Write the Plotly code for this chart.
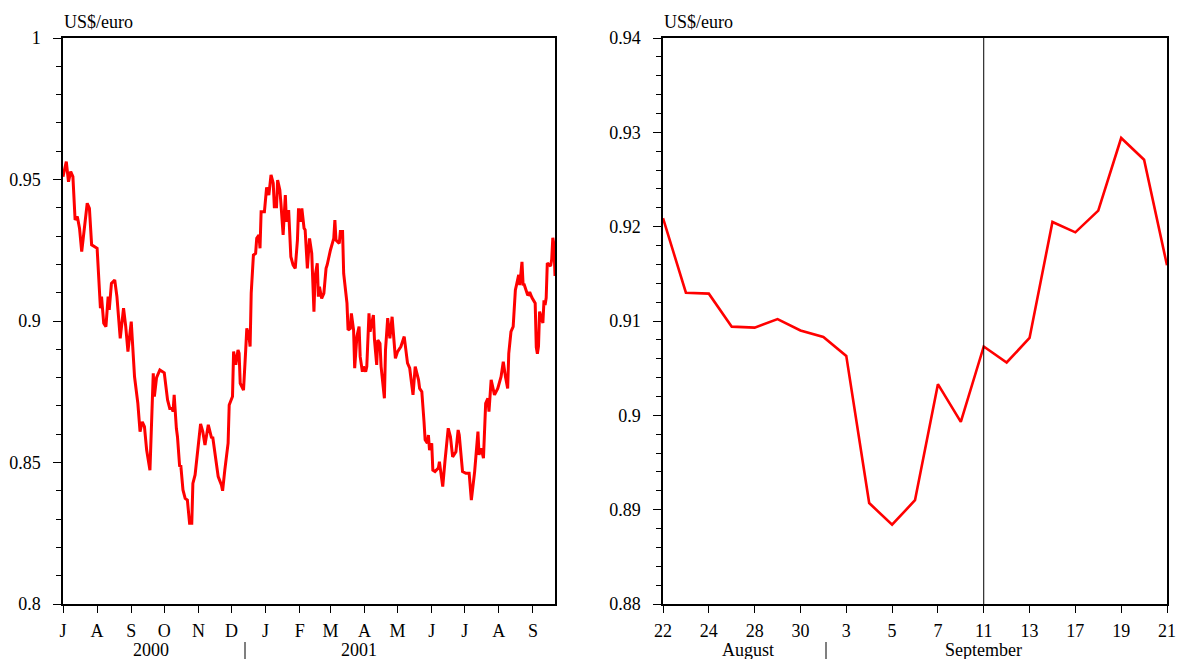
import pandas as pd
import plotly.graph_objects as go

# Daily US$/euro rate, July 2000 to mid-August 2001
rate_dates = [
    "2000-07-01", "2000-07-04", "2000-07-06", "2000-07-08", "2000-07-10", "2000-07-12",
    "2000-07-14", "2000-07-16", "2000-07-18", "2000-07-20", "2000-07-23", "2000-07-25",
    "2000-07-27", "2000-08-01", "2000-08-04", "2000-08-05", "2000-08-07", "2000-08-09",
    "2000-08-11", "2000-08-12", "2000-08-14", "2000-08-17", "2000-08-19", "2000-08-22",
    "2000-08-25", "2000-08-27", "2000-08-29", "2000-09-01", "2000-09-04", "2000-09-07",
    "2000-09-09", "2000-09-11", "2000-09-13", "2000-09-15", "2000-09-18", "2000-09-21",
    "2000-09-22", "2000-09-24", "2000-09-27", "2000-10-01", "2000-10-04", "2000-10-06",
    "2000-10-08", "2000-10-09", "2000-10-10", "2000-10-12", "2000-10-13", "2000-10-15",
    "2000-10-16", "2000-10-18", "2000-10-20", "2000-10-22", "2000-10-24", "2000-10-26",
    "2000-10-27", "2000-10-29", "2000-10-31", "2000-11-01", "2000-11-03", "2000-11-05",
    "2000-11-07", "2000-11-10", "2000-11-13", "2000-11-14", "2000-11-16", "2000-11-19",
    "2000-11-22", "2000-11-23", "2000-11-25", "2000-11-28", "2000-11-29", "2000-12-02",
    "2000-12-03", "2000-12-05", "2000-12-07", "2000-12-08", "2000-12-09", "2000-12-12",
    "2000-12-14", "2000-12-15", "2000-12-17", "2000-12-18", "2000-12-19", "2000-12-21",
    "2000-12-23", "2000-12-24", "2000-12-26", "2000-12-27", "2000-12-28", "2000-12-31",
    "2001-01-02", "2001-01-04", "2001-01-06", "2001-01-08", "2001-01-09", "2001-01-11",
    "2001-01-12", "2001-01-14", "2001-01-15", "2001-01-17", "2001-01-19", "2001-01-20",
    "2001-01-22", "2001-01-24", "2001-01-26", "2001-01-28", "2001-01-30", "2001-01-31",
    "2001-02-02", "2001-02-03", "2001-02-05", "2001-02-06", "2001-02-08", "2001-02-10",
    "2001-02-12", "2001-02-14", "2001-02-15", "2001-02-17", "2001-02-18", "2001-02-19",
    "2001-02-21", "2001-02-23", "2001-02-25", "2001-02-26", "2001-03-01", "2001-03-04",
    "2001-03-05", "2001-03-06", "2001-03-09", "2001-03-10", "2001-03-12", "2001-03-13",
    "2001-03-15", "2001-03-16", "2001-03-17", "2001-03-19", "2001-03-20", "2001-03-22",
    "2001-03-23", "2001-03-25", "2001-03-27", "2001-03-28", "2001-03-30", "2001-03-31",
    "2001-04-02", "2001-04-03", "2001-04-05", "2001-04-06", "2001-04-09", "2001-04-10",
    "2001-04-12", "2001-04-13", "2001-04-15", "2001-04-16", "2001-04-19", "2001-04-20",
    "2001-04-22", "2001-04-24", "2001-04-26", "2001-04-29", "2001-05-01", "2001-05-04",
    "2001-05-07", "2001-05-08", "2001-05-10", "2001-05-12", "2001-05-14", "2001-05-15",
    "2001-05-17", "2001-05-20", "2001-05-21", "2001-05-23", "2001-05-25", "2001-05-26",
    "2001-05-28", "2001-05-29", "2001-05-30", "2001-06-01", "2001-06-02", "2001-06-04",
    "2001-06-07", "2001-06-08", "2001-06-09", "2001-06-11", "2001-06-13", "2001-06-16",
    "2001-06-18", "2001-06-20", "2001-06-23", "2001-06-25", "2001-06-26", "2001-06-29",
    "2001-07-02", "2001-07-05", "2001-07-07", "2001-07-10", "2001-07-13", "2001-07-14",
    "2001-07-16", "2001-07-18", "2001-07-20", "2001-07-22", "2001-07-23", "2001-07-25",
    "2001-07-28", "2001-07-31", "2001-08-03", "2001-08-05", "2001-08-07", "2001-08-09",
    "2001-08-10", "2001-08-12", "2001-08-14", "2001-08-16", "2001-08-17", "2001-08-19",
    "2001-08-20",
]
rate_values = [
    0.9510, 0.9563, 0.9492, 0.9528, 0.9510, 0.9357,
    0.9369, 0.9328, 0.9245, 0.9322, 0.9416, 0.9398,
    0.9269, 0.9257, 0.9045, 0.9086, 0.8992, 0.8980,
    0.9086, 0.9039, 0.9133, 0.9145, 0.9086, 0.8939,
    0.9045, 0.8980, 0.8892, 0.8998, 0.8803, 0.8709,
    0.8609, 0.8644, 0.8627, 0.8544, 0.8473, 0.8815,
    0.8733, 0.8800, 0.8827, 0.8817, 0.8721, 0.8691,
    0.8691, 0.8680, 0.8739, 0.8621, 0.8591, 0.8485,
    0.8491, 0.8403, 0.8373, 0.8367, 0.8285, 0.8285,
    0.8426, 0.8456, 0.8532, 0.8574, 0.8636, 0.8609,
    0.8562, 0.8633, 0.8586, 0.8591, 0.8538, 0.8450,
    0.8420, 0.8400, 0.8473, 0.8568, 0.8703, 0.8733,
    0.8892, 0.8845, 0.8898, 0.8886, 0.8780, 0.8756,
    0.8898, 0.8974, 0.8945, 0.8910, 0.9098, 0.9233,
    0.9239, 0.9292, 0.9304, 0.9257, 0.9386, 0.9386,
    0.9472, 0.9445, 0.9516, 0.9487, 0.9404, 0.9404,
    0.9498, 0.9463, 0.9416, 0.9304, 0.9445, 0.9351,
    0.9392, 0.9227, 0.9198, 0.9186, 0.9286, 0.9398,
    0.9351, 0.9398, 0.9328, 0.9322, 0.9186, 0.9292,
    0.9239, 0.9033, 0.9157, 0.9204, 0.9086, 0.9121,
    0.9080, 0.9098, 0.9186, 0.9198, 0.9251, 0.9292,
    0.9357, 0.9286, 0.9274, 0.9316, 0.9316, 0.9168,
    0.9098, 0.9063, 0.8968, 0.8974, 0.9027, 0.8968,
    0.8833, 0.8945, 0.8980, 0.8874, 0.8821, 0.8839,
    0.8821, 0.8839, 0.9027, 0.8962, 0.9021, 0.8933,
    0.8845, 0.8933, 0.8921, 0.8839, 0.8727, 0.8898,
    0.9010, 0.8939, 0.9015, 0.8868, 0.8892, 0.8910,
    0.8945, 0.8910, 0.8851, 0.8833, 0.8762, 0.8739,
    0.8839, 0.8792, 0.8762, 0.8750, 0.8644, 0.8580,
    0.8568, 0.8597, 0.8544, 0.8568, 0.8473, 0.8468,
    0.8480, 0.8503, 0.8473, 0.8415, 0.8503, 0.8621,
    0.8591, 0.8520, 0.8538, 0.8615, 0.8597, 0.8468,
    0.8462, 0.8462, 0.8367, 0.8468, 0.8609, 0.8527,
    0.8550, 0.8515, 0.8709, 0.8727, 0.8680, 0.8792,
    0.8739, 0.8762, 0.8803, 0.8856, 0.8803, 0.8762,
    0.8886, 0.8962, 0.8980, 0.9110, 0.9127, 0.9163,
    0.9127,
]

# Business days 22 August - 21 September 2001
sept_dates = [
    "2001-08-22", "2001-08-23", "2001-08-24", "2001-08-27", "2001-08-28", "2001-08-29",
    "2001-08-30", "2001-08-31", "2001-09-03", "2001-09-04", "2001-09-05", "2001-09-06",
    "2001-09-07", "2001-09-10", "2001-09-11", "2001-09-12", "2001-09-13", "2001-09-14",
    "2001-09-17", "2001-09-18", "2001-09-19", "2001-09-20", "2001-09-21",
]
sept_values = [
    0.9209, 0.9130, 0.9129, 0.9094, 0.9093, 0.9102,
    0.9090, 0.9083, 0.9063, 0.8907, 0.8884, 0.8910,
    0.9033, 0.8993, 0.9073, 0.9056, 0.9082, 0.9205,
    0.9194, 0.9217, 0.9294, 0.9271, 0.9159,
]

month_letters = ["J", "A", "S", "O", "N", "D", "J", "F", "M", "A", "M", "J", "J", "A", "S"]
attack_day = "2001-09-11"

FONT = "Liberation Serif"
W, H = 1180, 659

# long-run series runs straight into the September detail
long_dates = rate_dates + sept_dates
long_values = rate_values + sept_values
month_starts = pd.date_range("2000-07-01", periods=len(month_letters), freq="MS")

sept_ticks = sept_dates[::2]
sept_ticktext = [str(pd.Timestamp(d).day) for d in sept_ticks]

fig = go.Figure()
fig.add_trace(go.Scatter(
    x=long_dates, y=long_values, mode="lines",
    line=dict(color="#ff0000", width=3), xaxis="x", yaxis="y", showlegend=False,
))
fig.add_trace(go.Scatter(
    x=sept_dates, y=sept_values, mode="lines",
    line=dict(color="#ff0000", width=2.6), xaxis="x2", yaxis="y2", showlegend=False,
))

def px_x(p):
    return p / W

def px_y(p):
    return (H - p) / H

axis_common = dict(
    showline=True, linecolor="black", linewidth=1.5, mirror=True,
    showgrid=False, zeroline=False, ticks="outside", tickcolor="black",
    tickwidth=1.2, tickfont=dict(family=FONT, size=18, color="black"),
    automargin=False,
)

fig.update_layout(
    width=W, height=H,
    margin=dict(l=0, r=0, t=0, b=0),
    paper_bgcolor="white", plot_bgcolor="white",
    font=dict(family=FONT, size=18, color="black"),
    xaxis=dict(
        axis_common, domain=[px_x(63), px_x(555)], anchor="y", type="date",
        range=["2000-07-01", "2001-09-21"],
        tickmode="array", tickvals=month_starts, ticktext=month_letters,
        ticklen=7, ticklabelstandoff=3,
    ),
    yaxis=dict(
        axis_common, domain=[px_y(604), px_y(38)], anchor="x",
        range=[0.8, 1.0], dtick=0.05, tick0=0.8, ticklen=8, ticklabelstandoff=9,
        minor=dict(dtick=0.01, tick0=0.8, ticks="outside", ticklen=5,
                   tickcolor="black", tickwidth=1.2, showgrid=False),
    ),
    xaxis2=dict(
        axis_common, domain=[px_x(663), px_x(1167)], anchor="y2", type="category",
        range=[0, len(sept_dates) - 1],
        tickmode="array", tickvals=sept_ticks, ticktext=sept_ticktext,
        ticklen=7, ticklabelstandoff=3,
    ),
    yaxis2=dict(
        axis_common, domain=[px_y(604), px_y(38)], anchor="x2",
        range=[0.88, 0.94], dtick=0.01, tick0=0.88, ticklen=8, ticklabelstandoff=9,
        minor=dict(dtick=0.002, tick0=0.88, ticks="outside", ticklen=5,
                   tickcolor="black", tickwidth=1.2, showgrid=False),
    ),
)

# 11 September marker
fig.add_shape(
    type="line", xref="x2", yref="y2 domain",
    x0=attack_day, x1=attack_day, y0=0, y1=1,
    line=dict(color="black", width=1),
)

def note(text, x, y, anchor="center", size=18):
    fig.add_annotation(
        text=text, xref="paper", yref="paper", x=px_x(x), y=px_y(y),
        xanchor=anchor, yanchor="middle", showarrow=False,
        font=dict(family=FONT, size=size, color="black"),
    )

def divider(x):
    fig.add_shape(
        type="line", xref="paper", yref="paper",
        x0=px_x(x), x1=px_x(x), y0=px_y(642), y1=px_y(659),
        line=dict(color="black", width=1),
    )

note("US$/euro", 62, 22, anchor="left")
note("US$/euro", 662, 22, anchor="left")
note("2000", 151, 650)
divider(245)
note("2001", 359, 650)
note("August", 748, 650)
divider(826)
note("September", 983, 650)

fig.write_html("out.html")
